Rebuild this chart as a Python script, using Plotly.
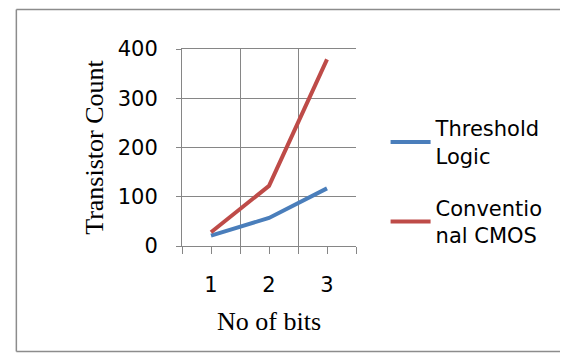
import plotly.graph_objects as go

bits = [1, 2, 3]
tick_labels = ["1", "2", "3"]
threshold_logic = [21, 57, 117]
conventional_cmos = [28, 122, 379]
y_ticks = [0, 100, 200, 300, 400]

SANS = "'DejaVu Sans', sans-serif"
SERIF = "'Liberation Serif', 'DejaVu Serif', serif"
GRID = "#868686"
BORDER = dict(color="#8C8C8C", width=1.5)

fig = go.Figure()
fig.add_trace(go.Scatter(x=bits, y=threshold_logic, mode="lines",
                         name="Threshold<br>Logic", legendgroup="a",
                         line=dict(color="#4A7EBB", width=4)))
fig.add_trace(go.Scatter(x=bits, y=conventional_cmos, mode="lines",
                         name="Conventio<br>nal CMOS", legendgroup="b",
                         line=dict(color="#BE4B48", width=4)))

# chart-area frame (left, top, bottom; right edge lies outside the picture)
frame = [
    dict(type="line", xref="paper", yref="paper", x0=-0.952, x1=-0.952,
         y0=-0.535, y1=1.2, line=BORDER, layer="below"),
    dict(type="line", xref="paper", yref="paper", x0=-0.952, x1=3.0,
         y0=1.2, y1=1.2, line=BORDER, layer="below"),
    dict(type="line", xref="paper", yref="paper", x0=-0.952, x1=3.0,
         y0=-0.535, y1=-0.535, line=BORDER, layer="below"),
]

fig.update_layout(
    width=552, height=345,
    margin=dict(l=174, r=202, t=41, b=107),
    paper_bgcolor="white", plot_bgcolor="white",
    font=dict(family=SANS, size=21, color="black"),
    showlegend=True,
    legend=dict(x=1.17, y=0.70, xanchor="left", yanchor="top",
                font=dict(family=SANS, size=21, color="black"),
                tracegroupgap=22, itemwidth=40, bgcolor="rgba(0,0,0,0)"),
    xaxis=dict(range=[0.5, 3.5], tickvals=bits, ticktext=tick_labels,
               showgrid=False, zeroline=False,
               ticks="outside", ticklen=7, tickcolor=GRID, tickwidth=1,
               showline=True, linecolor=GRID, linewidth=1, mirror=True,
               tickfont=dict(family=SANS, size=21),
               ticklabelstandoff=13,
               minor=dict(tick0=0.5, dtick=1, showgrid=True, gridcolor=GRID,
                          gridwidth=1, ticks="outside", ticklen=7,
                          tickcolor=GRID),
               title=dict(text="No of bits", font=dict(family=SERIF, size=26),
                          standoff=15),
               fixedrange=True),
    yaxis=dict(range=[0, 400], tickvals=y_ticks,
               showgrid=True, gridcolor=GRID, gridwidth=1, zeroline=False,
               ticks="outside", ticklen=5, tickcolor=GRID,
               showline=True, linecolor=GRID, linewidth=1,
               tickfont=dict(family=SANS, size=21),
               ticklabelstandoff=14,
               title=dict(text="Transistor Count", font=dict(family=SERIF, size=26),
                          standoff=6),
               fixedrange=True),
    shapes=frame,
)

fig.write_html("out.html")
